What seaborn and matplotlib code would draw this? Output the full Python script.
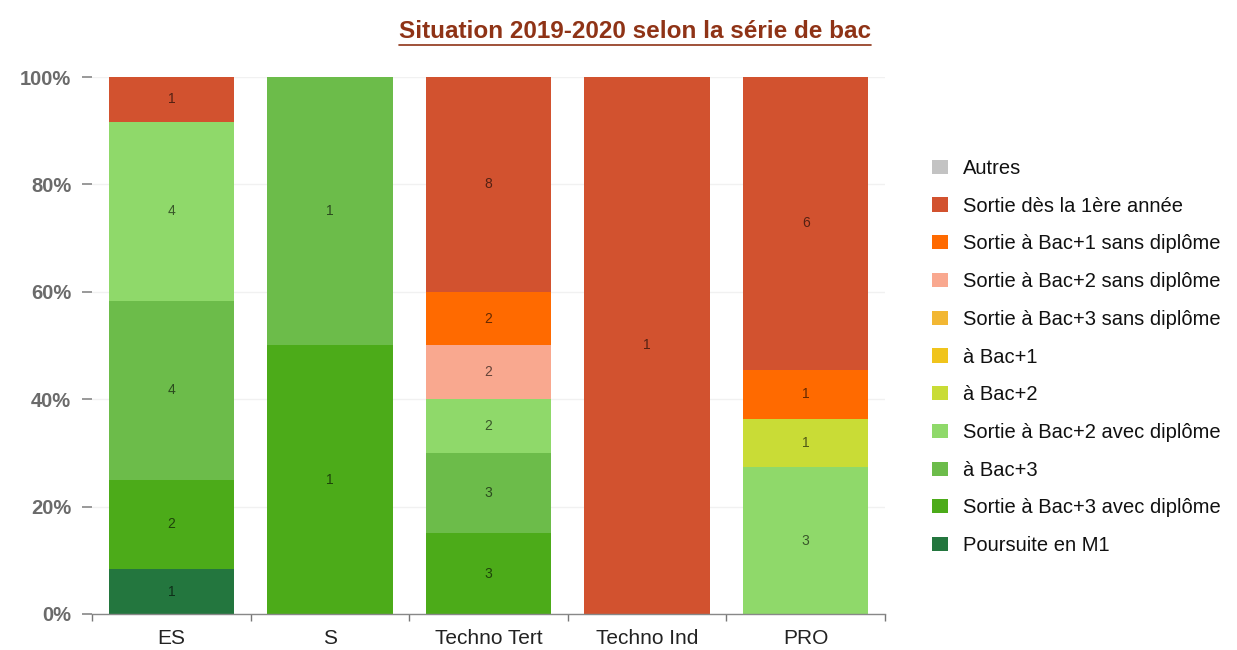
import numpy as np
import pandas as pd
import matplotlib
matplotlib.use("Agg")
import matplotlib.pyplot as plt
import seaborn as sns
from matplotlib.patches import Patch
from matplotlib.lines import Line2D
from matplotlib.ticker import PercentFormatter

# ---- data ----
series_bac = ["ES", "S", "Techno Tert", "Techno Ind", "PRO"]

# legend order (top to bottom) == stacking order from top to bottom
situations = [
    "Autres",
    "Sortie dès la 1ère année",
    "Sortie à Bac+1 sans diplôme",
    "Sortie à Bac+2 sans diplôme",
    "Sortie à Bac+3 sans diplôme",
    "à Bac+1",
    "à Bac+2",
    "Sortie à Bac+2 avec diplôme",
    "à Bac+3",
    "Sortie à Bac+3 avec diplôme",
    "Poursuite en M1",
]
colors = [
    "#c3c3c3", "#d2522f", "#ff6a00", "#f9a88f", "#f2b733", "#f0c41c",
    "#c9dc36", "#8fd96a", "#6cbc4a", "#4cab19", "#23763e",
]

# counts per situation, one list per series (same order as series_bac)
autres          = [0, 0, 0, 0, 0]
sortie_1ere     = [1, 0, 8, 1, 6]
sortie_b1_sans  = [0, 0, 2, 0, 1]
sortie_b2_sans  = [0, 0, 2, 0, 0]
sortie_b3_sans  = [0, 0, 0, 0, 0]
a_bac1          = [0, 0, 0, 0, 0]
a_bac2          = [0, 0, 0, 0, 1]
sortie_b2_avec  = [4, 0, 2, 0, 3]
a_bac3          = [4, 1, 3, 0, 0]
sortie_b3_avec  = [2, 1, 3, 0, 0]
poursuite_m1    = [1, 0, 0, 0, 0]

counts = [autres, sortie_1ere, sortie_b1_sans, sortie_b2_sans, sortie_b3_sans,
          a_bac1, a_bac2, sortie_b2_avec, a_bac3, sortie_b3_avec, poursuite_m1]

rows = []
for sit, vals in zip(situations, counts):
    for bac, v in zip(series_bac, vals):
        if v > 0:
            rows.append({"bac": bac, "situation": sit, "n": v})
df = pd.DataFrame(rows)
df["bac"] = pd.Categorical(df["bac"], categories=series_bac, ordered=True)
df = df.sort_values("bac").reset_index(drop=True)
df["bac"] = df["bac"].astype(str)

palette = dict(zip(situations, colors))
present = [s for s in situations if s in set(df["situation"])]

# ---- figure ----
sns.set_theme(style="white")
plt.rcParams["font.family"] = ["Liberation Sans", "DejaVu Sans"]

fig = plt.figure(figsize=(12.37, 6.5), dpi=100)
ax = fig.add_axes([0.0744, 0.0555, 0.641, 0.826])

sns.histplot(data=df, x="bac", hue="situation", weights="n",
             hue_order=present, palette=palette, multiple="fill",
             discrete=True, shrink=0.79, alpha=1, linewidth=0,
             edgecolor="none", legend=False, ax=ax)

# count labels in the middle of each segment
tab = df.pivot_table(index="bac", columns="situation", values="n",
                     aggfunc="sum", fill_value=0)
for i, bac in enumerate(series_bac):
    tot = tab.loc[bac].sum()
    base = 0.0
    for sit in reversed(situations):
        v = tab.loc[bac, sit] if sit in tab.columns else 0
        if v > 0:
            frac = v / tot
            c = np.array(matplotlib.colors.to_rgb(palette[sit])) * 0.4
            ax.text(i, base + frac / 2, f"{int(v)}", ha="center", va="center",
                    fontsize=10, color=c)
            base += frac

ax.set_xlim(-0.5, len(series_bac) - 0.5)
ax.set_ylim(0, 1)
ax.set_xticks(range(len(series_bac)))
ax.set_xticklabels(series_bac, fontsize=15, color="#222222")
ax.set_xticks(np.arange(-0.5, len(series_bac)), minor=True)
ax.tick_params(axis="x", which="major", length=0, pad=11)
ax.tick_params(axis="x", which="minor", length=5, color="#777777", width=1,
               direction="out", bottom=True)
ax.set_yticks(np.linspace(0, 1, 6))
ax.yaxis.set_major_formatter(PercentFormatter(1.0, decimals=0))
ax.tick_params(axis="y", length=7, color="#888888", width=1.2, pad=8,
               left=True, labelsize=14.5, labelcolor="#6b6b6b")
for lbl in ax.get_yticklabels():
    lbl.set_fontweight("bold")
ax.set_xlabel("")
ax.set_ylabel("")
ax.grid(axis="y", color="#f1f1f1", linewidth=1)
ax.set_axisbelow(True)
for side in ["top", "right", "left"]:
    ax.spines[side].set_visible(False)
ax.spines["bottom"].set_color("#888888")
ax.spines["bottom"].set_linewidth(1)

# legend
handles = [Patch(facecolor=c, edgecolor="none") for c in colors]
fig.legend(handles, situations, loc="upper left", bbox_to_anchor=(0.747, 0.768),
           frameon=False, fontsize=14.5, handlelength=0.8, handleheight=0.7,
           handletextpad=0.75, labelspacing=0.93, borderaxespad=0,
           labelcolor="#111111")

# underlined title
title = fig.text(0.513, 0.952, "Situation 2019-2020 selon la série de bac",
                 ha="center", va="center", fontsize=17.5, fontweight="bold",
                 color="#8f3316")
fig.canvas.draw()
bb = title.get_window_extent().transformed(fig.transFigure.inverted())
fig.add_artist(Line2D([bb.x0, bb.x1], [bb.y0 - 0.004, bb.y0 - 0.004],
                      transform=fig.transFigure, color="#8f3316", linewidth=1.2))

fig.savefig("out.png", dpi=100)
